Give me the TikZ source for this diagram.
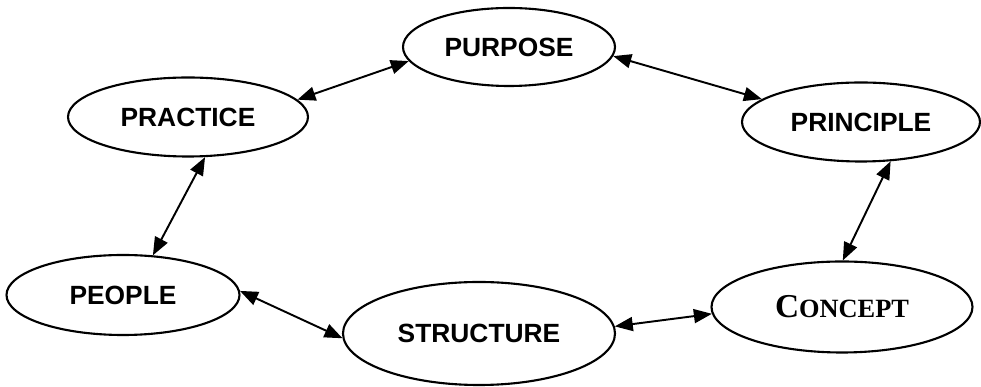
\documentclass[tikz,border=0pt]{standalone}
\usepackage{fontspec}
\setmainfont{Liberation Sans}
\newfontfamily\conceptfont{Liberation Serif}
\usetikzlibrary{shapes.geometric,arrows.meta}

\begin{document}
\begin{tikzpicture}[
  idea/.style={ellipse,draw,line width=1.2pt,inner sep=0pt,font=\fontsize{15}{18}\selectfont\bfseries},
  link/.style={{Triangle[length=3.6mm,width=2.8mm]}-{Triangle[length=3.6mm,width=2.8mm]},line width=1.1pt}]
\useasboundingbox (0,0) rectangle (19.62,7.74);
\node[idea,minimum width=4.24cm,minimum height=1.56cm] (purpose) at (10.18,6.80) {PURPOSE};
\node[idea,minimum width=4.80cm,minimum height=1.58cm] (practice) at (3.76,5.40) {PRACTICE};
\node[idea,minimum width=4.76cm,minimum height=1.58cm] (principle) at (17.22,5.30) {PRINCIPLE};
\node[idea,minimum width=4.66cm,minimum height=1.60cm] (people) at (2.46,1.84) {PEOPLE};
\node[idea,minimum width=5.44cm,minimum height=2.06cm] (structure) at (9.58,1.07) {STRUCTURE};
\node[idea,minimum width=5.22cm,minimum height=1.82cm] (concept) at (16.84,1.60)
  {\conceptfont\fontsize{19}{20}\selectfont C\fontsize{15}{18}\selectfont ONCEPT};
\draw[link] (practice.9) -- (purpose.188);
\draw[link] (purpose.355) -- (principle.167);
\draw[link] (practice.293) -- (people.53);
\draw[link] (principle.307) -- (concept.89);
\draw[link] (people.2) -- (structure.182);
\draw[link] (structure.3) -- (concept.183);
\end{tikzpicture}
\end{document}
